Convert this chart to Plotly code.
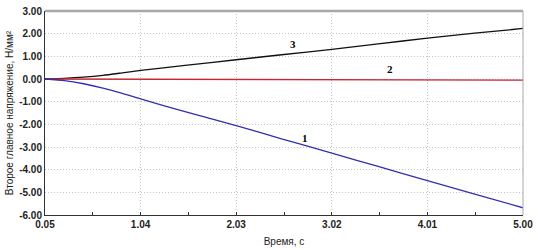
import plotly.graph_objects as go

time = [0.05, 0.25, 0.45, 0.65, 0.85, 1.04, 1.50, 2.03, 2.50, 3.02, 3.50, 4.01, 4.50, 5.00]
s1 = [0.00, -0.07, -0.21, -0.40, -0.63, -0.88, -1.44, -2.06, -2.64, -3.27, -3.86, -4.48, -5.08, -5.68]
s2 = [0.00, -0.003, -0.006, -0.008, -0.01, -0.01, -0.015, -0.02, -0.025, -0.03, -0.035, -0.04, -0.045, -0.05]
s3 = [0.00, 0.03, 0.08, 0.16, 0.27, 0.38, 0.60, 0.85, 1.07, 1.31, 1.55, 1.80, 2.02, 2.23]

x_ticks = [0.05, 1.04, 2.03, 3.02, 4.01, 5.00]
y_ticks = [3, 2, 1, 0, -1, -2, -3, -4, -5, -6]

labels = [("1", 2.74, -2.62), ("2", 3.62, 0.45), ("3", 2.62, 1.56)]

fig = go.Figure()
fig.add_trace(go.Scatter(x=time, y=s3, mode="lines", line=dict(color="#111111", width=1.3, shape="spline", smoothing=0.6)))
fig.add_trace(go.Scatter(x=time, y=s2, mode="lines", line=dict(color="#cc2233", width=1.3)))
fig.add_trace(go.Scatter(x=time, y=s1, mode="lines", line=dict(color="#3030b0", width=1.3, shape="spline", smoothing=0.6)))

for t, xv, yv in labels:
    fig.add_annotation(x=xv, y=yv, text=t, showarrow=False,
                       font=dict(family="Liberation Serif", size=11, color="#000", weight="bold"))

tickfont = dict(family="Liberation Sans", size=10, color="#222", weight="bold")
grid = dict(showgrid=True, gridcolor="#c4c4c4", griddash="1px,2px", gridwidth=1)
fig.update_xaxes(range=[0.05, 5.0], tickvals=x_ticks, ticktext=[f"{v:.2f}" for v in x_ticks],
                 showline=True, linecolor="#333", linewidth=1, zeroline=False,
                 ticks="inside", ticklen=3, tickcolor="#333", ticklabeloverflow="allow",
                 minor=dict(tickvals=[0.545, 1.535, 2.525, 3.515, 4.505], ticks="inside", ticklen=3, tickcolor="#333", showgrid=False),
                 tickfont=tickfont,
                 title=dict(text="Время, с", font=dict(family="Liberation Sans", size=10, color="#222"), standoff=8),
                 **grid)
fig.update_yaxes(range=[-6, 3], tickvals=y_ticks, ticktext=[f"{v:.2f}" for v in y_ticks],
                 showline=True, linecolor="#333", linewidth=1, zeroline=False,
                 ticks="", tickfont=tickfont, ticklabeloverflow="allow",
                 title=dict(text="Второе главное напряжение, Н/мм²", font=dict(family="Liberation Sans", size=10, color="#222"), standoff=3),
                 **grid)
fig.add_shape(type="line", xref="paper", yref="paper", x0=0, x1=1, y0=1, y1=1, line=dict(color="#a8a8a8", width=2.5))
fig.add_shape(type="line", xref="paper", yref="paper", x0=1, x1=1, y0=0, y1=1, line=dict(color="#a8a8a8", width=1))

fig.update_layout(width=538, height=250, margin=dict(l=45, r=11, t=5, b=33),
                  plot_bgcolor="white", paper_bgcolor="white", showlegend=False)
fig.write_html("out.html", config={"displayModeBar": False},
               post_script="document.body.style.margin='0';document.body.style.overflow='hidden';")
